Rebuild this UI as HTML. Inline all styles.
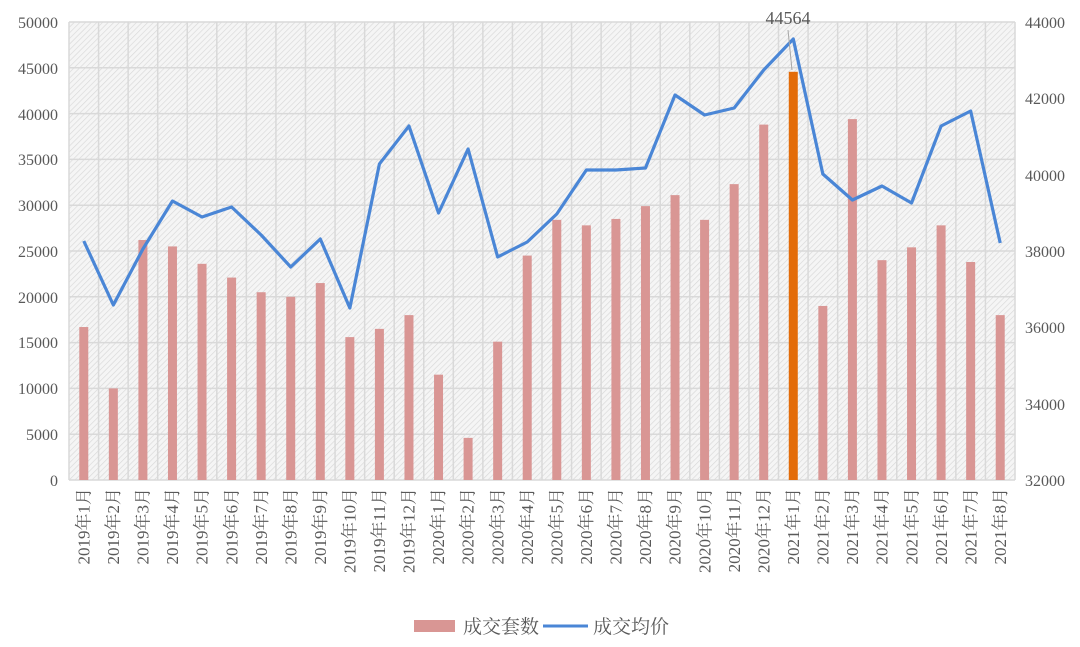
<!DOCTYPE html>
<html><head><meta charset="utf-8"><style>
html,body{margin:0;padding:0;background:#fff;}
svg{display:block;}
text{font-family:"Liberation Serif","Noto Serif CJK SC",serif;fill:#595959;}
</style></head><body>
<svg id="s" width="1080" height="647" viewBox="0 0 1080 647" xmlns="http://www.w3.org/2000/svg">
<defs>
<pattern id="hatch" width="4" height="4" patternUnits="userSpaceOnUse" patternTransform="rotate(45)">
<rect width="4" height="4" fill="#f5f5f5"/>
<line x1="0" y1="0" x2="0" y2="4" stroke="#d8d8d8" stroke-width="1.3"/>
</pattern>
</defs>
<rect x="69" y="22" width="946" height="458" fill="url(#hatch)"/>
<g id="grid" stroke="#d9d9d9" stroke-width="1.5" fill="none"></g>
<g id="bars"></g>
<polyline id="line" fill="none" stroke="#4a86d6" stroke-width="3.2" stroke-linejoin="round" points=""/>
<line x1="788" y1="30" x2="792" y2="70" stroke="#a6a6a6" stroke-width="1"/>
<text x="788" y="24" font-size="18" text-anchor="middle">44564</text>
<g font-size="16" text-anchor="end">
<text x="58" y="28">50000</text><text x="58" y="74">45000</text><text x="58" y="120">40000</text><text x="58" y="165">35000</text><text x="58" y="211">30000</text><text x="58" y="257">25000</text><text x="58" y="303">20000</text><text x="58" y="348">15000</text><text x="58" y="394">10000</text><text x="58" y="440">5000</text><text x="58" y="486">0</text>
</g>
<g font-size="16" text-anchor="start">
<text x="1025" y="28">44000</text><text x="1025" y="104">42000</text><text x="1025" y="181">40000</text><text x="1025" y="257">38000</text><text x="1025" y="333">36000</text><text x="1025" y="410">34000</text><text x="1025" y="486">32000</text>
</g>
<g font-size="17" text-anchor="end">
<text transform="translate(89.5,488) rotate(-90)">2019年1月</text>
<text transform="translate(119,488) rotate(-90)">2019年2月</text>
<text transform="translate(148.5,488) rotate(-90)">2019年3月</text>
<text transform="translate(178,488) rotate(-90)">2019年4月</text>
<text transform="translate(207.5,488) rotate(-90)">2019年5月</text>
<text transform="translate(237.5,488) rotate(-90)">2019年6月</text>
<text transform="translate(267,488) rotate(-90)">2019年7月</text>
<text transform="translate(296.5,488) rotate(-90)">2019年8月</text>
<text transform="translate(326,488) rotate(-90)">2019年9月</text>
<text transform="translate(355.5,488) rotate(-90)">2019年10月</text>
<text transform="translate(385,488) rotate(-90)">2019年11月</text>
<text transform="translate(414.5,488) rotate(-90)">2019年12月</text>
<text transform="translate(444,488) rotate(-90)">2020年1月</text>
<text transform="translate(473.5,488) rotate(-90)">2020年2月</text>
<text transform="translate(503.5,488) rotate(-90)">2020年3月</text>
<text transform="translate(533,488) rotate(-90)">2020年4月</text>
<text transform="translate(562.5,488) rotate(-90)">2020年5月</text>
<text transform="translate(592,488) rotate(-90)">2020年6月</text>
<text transform="translate(621.5,488) rotate(-90)">2020年7月</text>
<text transform="translate(651,488) rotate(-90)">2020年8月</text>
<text transform="translate(680.5,488) rotate(-90)">2020年9月</text>
<text transform="translate(710.5,488) rotate(-90)">2020年10月</text>
<text transform="translate(740,488) rotate(-90)">2020年11月</text>
<text transform="translate(769.5,488) rotate(-90)">2020年12月</text>
<text transform="translate(799,488) rotate(-90)">2021年1月</text>
<text transform="translate(828.5,488) rotate(-90)">2021年2月</text>
<text transform="translate(858,488) rotate(-90)">2021年3月</text>
<text transform="translate(887.5,488) rotate(-90)">2021年4月</text>
<text transform="translate(917.5,488) rotate(-90)">2021年5月</text>
<text transform="translate(947,488) rotate(-90)">2021年6月</text>
<text transform="translate(976.5,488) rotate(-90)">2021年7月</text>
<text transform="translate(1006,488) rotate(-90)">2021年8月</text>
</g>
<rect x="414" y="620" width="41" height="12" fill="#d99694"/>
<text x="463" y="633" font-size="19">成交套数</text>
<line x1="543" y1="626" x2="588" y2="626" stroke="#4a86d6" stroke-width="3"/>
<text x="593" y="633" font-size="19">成交均价</text>
</svg>
<script>
var L=69,T=22,B=480,W=29.5625;
var g=document.getElementById('grid'),s='';
for(var i=0;i<=32;i++){var x=L+i*W;s+='<line x1="'+x+'" y1="'+T+'" x2="'+x+'" y2="'+B+'"/>';}
for(var j=0;j<=10;j++){var y=T+j*45.8;s+='<line x1="'+L+'" y1="'+y+'" x2="'+(L+32*W)+'" y2="'+y+'"/>';}
g.innerHTML=s;
var v=[16700,10000,26200,25500,23600,22100,20500,20000,21500,15600,16500,18000,11500,4600,15100,24500,28400,27800,28500,29900,31100,28400,32300,38800,44564,19000,39400,24000,25400,27800,23800,18000];
var ly=[241,305,249,201,217,207,235,267,239,308,164,126,213,149,257,242,214,170,170,168,95,115,108,70,39,174,200,186,203,126,111,243];
var b='',p=[];
for(var i=0;i<32;i++){var c=L+(i+0.5)*W,h=v[i]/50000*458;
b+='<rect x="'+(c-4.5)+'" y="'+(B-h)+'" width="9" height="'+h+'" fill="'+(i==24?'#e36c09':'#d99694')+'"/>';
p.push(c+','+ly[i]);}
document.getElementById('bars').innerHTML=b;
document.getElementById('line').setAttribute('points',p.join(' '));
</script>
</body></html>
